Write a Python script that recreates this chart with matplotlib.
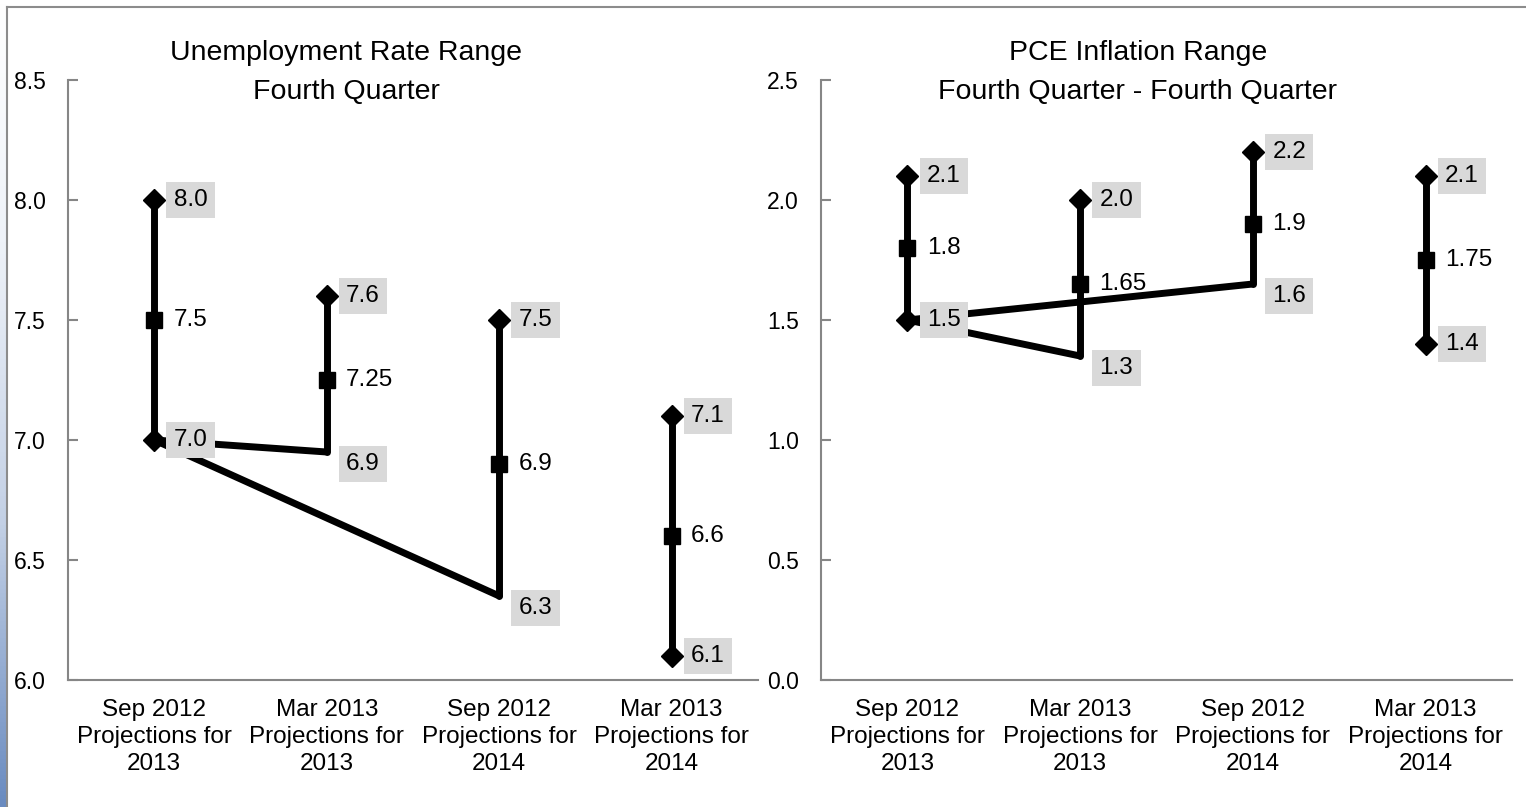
import numpy as np
import matplotlib.pyplot as plt
from matplotlib.colors import LinearSegmentedColormap
from matplotlib.ticker import FormatStrFormatter

plt.rcParams['font.family'] = ['Liberation Sans', 'DejaVu Sans']

categories = ['Sep 2012\nProjections for\n2013', 'Mar 2013\nProjections for\n2013',
              'Sep 2012\nProjections for\n2014', 'Mar 2013\nProjections for\n2014']

# Unemployment rate range (4th quarter)
unemp_high = [8.0, 7.6, 7.5, 7.1]
unemp_mid = [7.5, 7.25, 6.9, 6.6]
unemp_low = [7.0, 6.95, 6.35, 6.1]        # where bars / links end in the chart
unemp_low_label = [7.0, 6.9, 6.3, 6.1]    # printed low values
unemp_title = ['Unemployment Rate Range', 'Fourth Quarter']

# PCE inflation range (Q4 - Q4)
pce_high = [2.1, 2.0, 2.2, 2.1]
pce_mid = [1.8, 1.65, 1.9, 1.75]
pce_low = [1.5, 1.35, 1.65, 1.4]
pce_low_label = [1.5, 1.3, 1.6, 1.4]
pce_title = ['PCE Inflation Range', 'Fourth Quarter - Fourth Quarter']

# which lows get a diamond, and which lows are joined by a line
low_marker = [True, False, False, True]
low_links = [(0, 1), (0, 2)]

GREY = '#868686'
BOX = dict(boxstyle='square,pad=0.3', fc='#D9D9D9', ec='none')
FS = 17.5


def draw_panel(ax, high, mid, low, low_label, ylim, yticks):
    x = np.arange(len(high))
    for i in x:
        ax.plot([i, i], [low[i], high[i]], color='black', lw=5,
                solid_capstyle='round', zorder=2)
    for a, b in low_links:
        ax.plot([x[a], x[b]], [low[a], low[b]], color='black', lw=5,
                solid_capstyle='round', solid_joinstyle='round', zorder=2)
    ax.plot(x, high, ls='none', marker='D', color='black', ms=11, zorder=3)
    ax.plot(x, mid, ls='none', marker='s', color='black', ms=12, zorder=3)
    sel = np.array(low_marker)
    ax.plot(x[sel], np.array(low)[sel], ls='none', marker='D', color='black',
            ms=11, zorder=3)

    for i in x:
        ax.annotate(f'{high[i]:.1f}', (i, high[i]), xytext=(14, 0),
                    textcoords='offset points', ha='left', va='center',
                    fontsize=FS, bbox=BOX, zorder=5)
        ax.annotate(f'{mid[i]:g}', (i, mid[i]), xytext=(14, 0),
                    textcoords='offset points', ha='left', va='center',
                    fontsize=FS, zorder=5)
        ax.annotate(f'{low_label[i]:.1f}', (i, low_label[i]), xytext=(14, 0),
                    textcoords='offset points', ha='left', va='center',
                    fontsize=FS, bbox=BOX, zorder=5)

    ax.set_xlim(-0.5, len(high) - 0.5)
    ax.set_ylim(*ylim)
    ax.set_yticks(yticks)
    ax.yaxis.set_major_formatter(FormatStrFormatter('%.1f'))
    ax.set_xticks(x)
    ax.set_xticklabels(categories, fontsize=FS, linespacing=1.28)
    ax.tick_params(axis='x', length=0, pad=14)
    ax.tick_params(axis='y', direction='in', length=7, width=1.5, color=GREY,
                   pad=16, labelsize=16.5)
    for s in ['top', 'right']:
        ax.spines[s].set_visible(False)
    for s in ['left', 'bottom']:
        ax.spines[s].set_color(GREY)
        ax.spines[s].set_linewidth(1.5)
    ax.set_facecolor('none')


W, H = 1526, 807
fig = plt.figure(figsize=(W / 100, H / 100), dpi=100)

# slide background strip on the left edge
bg = fig.add_axes([0, 0, 7 / W, 1])
cmap = LinearSegmentedColormap.from_list(
    'strip', [(0, '#FFFFFF'), (0.3, '#EEF2F8'), (0.65, '#C3D0E5'), (1, '#6A8BC0')])
bg.imshow(np.linspace(0, 1, 200).reshape(-1, 1), cmap=cmap, aspect='auto')
bg.axis('off')

# slide frame
fig.add_artist(plt.Line2D([7 / W, 1], [1 - 7 / H, 1 - 7 / H], color='#8C8C8C',
                          lw=1.5, transform=fig.transFigure))
fig.add_artist(plt.Line2D([7 / W, 7 / W], [0, 1 - 7 / H], color='#8C8C8C',
                          lw=1.5, transform=fig.transFigure))

ax1 = fig.add_axes([68 / W, 1 - 680 / H, 690 / W, 600 / H])
ax2 = fig.add_axes([821 / W, 1 - 680 / H, 691 / W, 600 / H])

draw_panel(ax1, unemp_high, unemp_mid, unemp_low, unemp_low_label,
           (6.0, 8.5), np.arange(6.0, 8.51, 0.5))
draw_panel(ax2, pce_high, pce_mid, pce_low, pce_low_label,
           (0.0, 2.5), np.arange(0.0, 2.51, 0.5))

# two-line titles, baselines placed separately
for cx, lines in [(346, unemp_title), (1138, pce_title)]:
    for base, txt in zip([60, 99], lines):
        fig.text(cx / W, 1 - base / H, txt, ha='center', va='baseline',
                 fontsize=20.5)

fig.savefig('out.png', dpi=100)
